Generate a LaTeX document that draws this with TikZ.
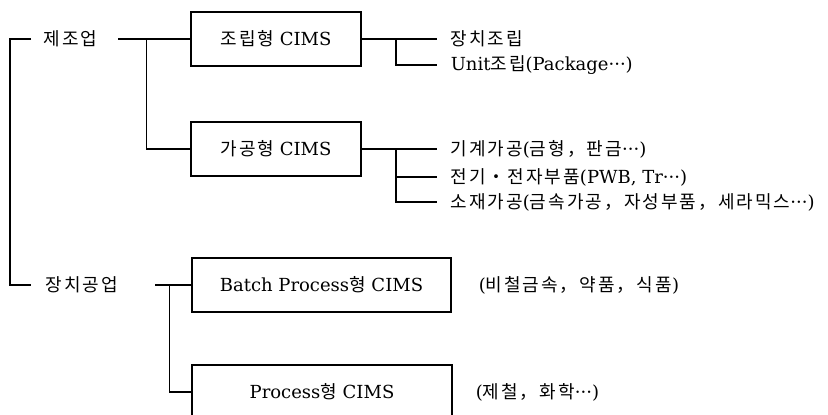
\documentclass[tikz,border=0pt]{standalone}
\usepackage{fontspec}
\setmainfont{DejaVu Serif}
\newfontfamily\kr[Scale=1.0, LetterSpace=11]{Noto Sans CJK KR}

\begin{document}
\begin{tikzpicture}[x=1pt, y=-1pt, line width=1.5pt,
	every node/.style={font=\fontsize{18}{22}\selectfont},
	cims/.style={draw, minimum height=54pt, inner sep=0pt},
	lbl/.style={anchor=west, inner sep=0pt}]
\useasboundingbox (0,0) rectangle (828,415);
% industries
\node[lbl] (jejo) at (43,39) {\kr 제조업};
\node[lbl] (jangchi) at (45,285) {\kr 장치공업};
% CIMS boxes
\node[cims, minimum width=170pt] (jorip) at (276,39) {{\kr 조립형} CIMS};
\node[cims, minimum width=170pt] (gagong) at (276,149) {{\kr 가공형} CIMS};
\node[cims, minimum width=259pt] (batch) at (321.5,285) {Batch Process{\kr 형} CIMS};
\node[cims, minimum width=260pt] (process) at (322,392) {Process{\kr 형} CIMS};
% items
\node[lbl] (it1) at (450,39) {\kr 장치조립};
\node[lbl] (it2) at (450,65) {Unit{\kr 조립}(Package···)};
\node[lbl] (it3) at (450,149) {{\kr 기계가공}({\kr 금형，판금}···)};
\node[lbl] (it4) at (450,177) {{\kr 전기・전자부품}(PWB, Tr···)};
\node[lbl] (it5) at (450,202) {{\kr 소재가공}({\kr 금속가공，자성부품，세라믹스}···)};
\node[lbl] (ex1) at (478,285) {({\kr 비철금속，약품，식품})};
\node[lbl] (ex2) at (475,392) {({\kr 제철，화학}···)};
\coordinate (t1) at (31,39);
\coordinate (t2) at (31,285);
\coordinate (bk) at (10,285);
\coordinate (s1) at (118,39);
\coordinate (s2) at (155,285);

\draw (t1) -| (bk) -- (t2);
\draw (s1) -- (jorip.west);
\draw (jorip.west) ++(-44,0) |- (gagong.west);
\draw (jorip.east) -- ([xshift=-13pt]it1.west);
\draw (jorip.east) ++(34,0) |- ([xshift=-13pt]it2.west);
\draw (gagong.east) -- ([xshift=-13pt]it3.west);
\draw (gagong.east) ++(34,0) |- ([xshift=-13pt]it4.west);
\draw (gagong.east) ++(34,0) |- ([xshift=-13pt]it5.west);
\draw (s2) -- (batch.west);
\draw (batch.west) ++(-22,0) |- (process.west);
\end{tikzpicture}
\end{document}
